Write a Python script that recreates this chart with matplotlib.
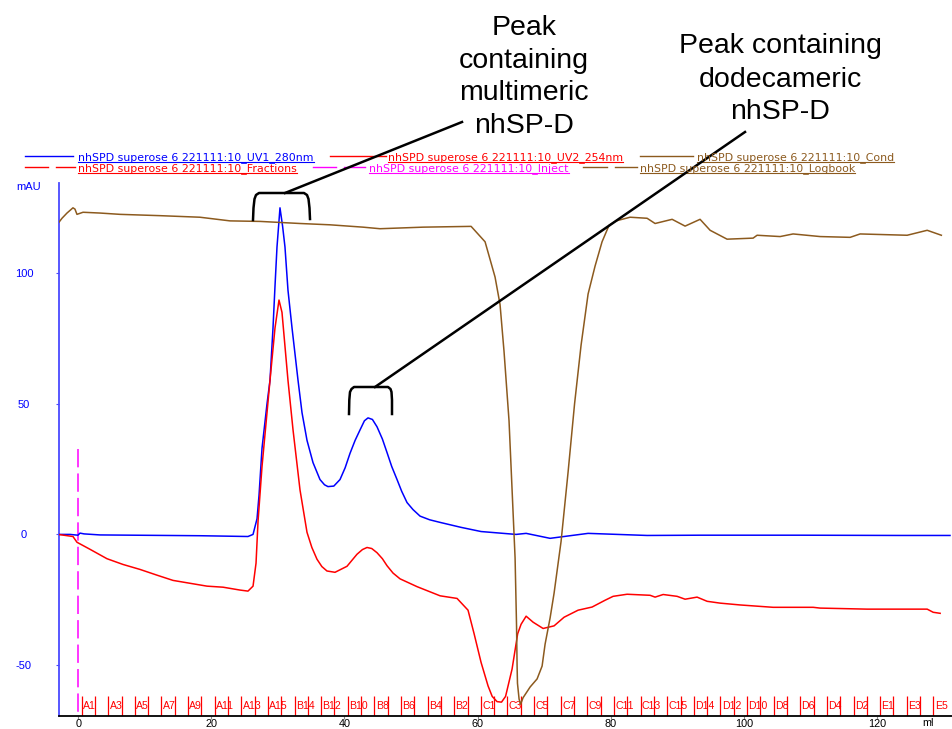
import numpy as np
import matplotlib
matplotlib.use("Agg")
import matplotlib.pyplot as plt

plt.rcParams['font.family'] = ['Liberation Sans', 'DejaVu Sans']

# ---------------- data (elution volume in ml, signal in mAU) ----------------
uv1_ml = [-2.9, -1.25, -0.05, 0.26, 0.86, 3.26, 18.28, 25.5, 26.26, 26.86, 27.16, 27.61,
          28.36, 28.81, 29.26, 29.56, 29.86, 30.31, 30.7, 31.06, 31.51, 32.12, 33.02, 33.62,
          34.37, 35.27, 36.32, 37.0, 37.52, 38.4, 39.33, 40.1, 40.83, 41.6, 42.34, 43.0,
          43.54, 44.2, 44.89, 45.7, 46.40, 47.1, 47.90, 48.6, 49.40, 50.3, 51.36, 52.8,
          54.37, 57.52, 60.53, 65.79, 67.30, 70.90, 73.00, 76.61, 85.48, 93.44, 108.48,
          123.51, 131.0]
uv1_mau = [0, 0, -0.3, 0.5, 0.2, -0.2, -0.5, -0.8, 0, 6, 15, 33,
           50, 59, 79, 95, 110, 125, 118, 110, 93.5, 79, 59, 46.6,
           36, 27.5, 21, 19, 18.3, 18.5, 21, 25.5, 31, 36, 40, 43.5,
           44.6, 44.0, 41.2, 36.5, 31.3, 26, 21, 16.5, 12.2, 9.5, 7, 5.6,
           4.6, 2.7, 1.1, 0, 0.4, -1.5, -0.8, 0.4, -0.4, -0.3, -0.3,
           -0.4, -0.4]

uv2_ml = [-3.05, -0.80, -0.20, 1.76, 4.31, 6.72, 9.27, 11.83, 14.23, 16.78, 19.34, 21.75,
          24.30, 25.50, 26.26, 26.71, 27.01, 27.61, 28.36, 28.81, 29.56, 30.16, 30.61,
          31.51, 32.27, 33.32, 34.37, 35.1, 35.87, 36.6, 37.37, 38.58, 40.38, 41.88, 42.7,
          43.39, 44.1, 44.89, 45.7, 46.40, 47.3, 48.35, 50.91, 54.37, 56.92, 58.57, 59.48,
          60.53, 61.58, 62.2, 62.93, 63.6, 64.21, 65.19, 66.03, 66.54, 67.30, 68.35, 69.85,
          71.50, 73.00, 75.11, 77.21, 79.16, 80.37, 82.47, 85.93, 86.68, 87.89, 89.99,
          91.19, 92.99, 94.50, 96.45, 99.46, 104.42, 110.43, 111.48, 118.55, 127.57,
          128.47, 129.52]
uv2_mau = [0, -0.8, -3, -5.7, -9.3, -11.5, -13.4, -15.6, -17.6, -18.7, -19.8, -20.2,
           -21.3, -21.7, -19.8, -11, 5, 26, 46.6, 59, 79, 89.7, 85,
           59, 40, 17, 0.8, -5, -9.5, -12.3, -14, -14.5, -12.2, -7.6, -5.8,
           -5, -5.4, -7, -9.3, -12, -14.8, -17, -20, -23.5, -24.5, -29, -38,
           -49, -58, -62, -64, -64.2, -62, -51.5, -38, -34.4, -31.3, -33.6, -36,
           -35, -31.7, -29, -27.8, -25.2, -23.7, -22.9, -23.3, -24, -23, -23.7,
           -24.8, -24, -25.6, -26.3, -27, -27.9, -27.9, -28.2, -28.6, -28.6,
           -29.8, -30.2]

cond_ml = [-2.90, -2.45, -1.70, -0.80, -0.50, -0.20, 0.71, 3.26, 6.27, 12.28, 18.28, 22.80,
           27.31, 33.32, 37.82, 42.79, 45.34, 51.81, 59.03, 61.13, 62.63, 63.38, 63.98,
           64.73, 65.19, 65.64, 65.86, 65.94, 66.0, 66.24, 66.47, 66.84, 67.90, 68.95,
           69.70, 70.15, 70.90, 71.50, 72.55, 73.60, 74.58, 75.56, 76.61, 77.66, 78.71,
           79.76, 80.82, 82.92, 85.48, 86.68, 89.24, 91.19, 93.44, 94.95, 97.50, 101.41,
           102.01, 105.47, 107.42, 111.48, 115.99, 117.49, 124.56, 127.57, 129.7]
cond_scaled = [119.5, 121, 123, 125, 124.5, 122.5, 123.3, 123, 122.5, 122, 121.4, 120,
               119.8, 119, 118.5, 117.6, 117, 117.6, 117.9, 112, 98.5, 88, 70,
               43.5, 17, -9, -35, -50, -57, -63, -65, -62.5, -58.4, -55.3,
               -50.4, -42, -32, -22.5, -2.7, 23.7, 50, 72.5, 92, 102.7, 112,
               118.3, 120, 121.4, 121, 119, 120.6, 118, 120.6, 116.4, 113, 113.4,
               114.5, 114, 115, 114, 113.7, 115, 114.5, 116.4, 114.5]

inject_ml = 0.0
inject_top_mau = 32.5

frac_labels = ["A1", "A3", "A5", "A7", "A9", "A11", "A13", "A15", "B14", "B12", "B10",
               "B8", "B6", "B4", "B2", "C1", "C3", "C5", "C7", "C9", "C11", "C13", "C15",
               "D14", "D12", "D10", "D8", "D6", "D4", "D2", "E1", "E3", "E5"]
frac_first_ml = 0.5
frac_size_ml = 2.0

legend_row1 = ["nhSPD superose 6 221111:10_UV1_280nm",
               "nhSPD superose 6 221111:10_UV2_254nm",
               "nhSPD superose 6 221111:10_Cond"]
legend_row2 = ["nhSPD superose 6 221111:10_Fractions",
               "nhSPD superose 6 221111:10_Inject",
               "nhSPD superose 6 221111:10_Logbook"]

x_ticks = [0, 20, 40, 60, 80, 100, 120]
y_ticks = [-50, 0, 50, 100]

# ---------------- styling ----------------
BLUE = '#0000ff'
RED = '#ff0000'
BROWN = '#8c5a1e'
MAGENTA = '#ff00ff'
SPINE_BLUE = '#4a4aff'

W, H = 952, 729
fig = plt.figure(figsize=(W / 100, H / 100), dpi=100)

x_lo, x_hi = -2.9, 131.3
y_lo, y_hi = -69.5, 134.5
ax = fig.add_axes([59 / W, 1 - 716 / H, (W - 59) / W, (716 - 183) / H])
ax.set_xlim(x_lo, x_hi)
ax.set_ylim(y_lo, y_hi)
for s in ['top', 'right']:
    ax.spines[s].set_visible(False)
ax.spines['left'].set_color(SPINE_BLUE)
ax.spines['left'].set_linewidth(1.3)
ax.spines['bottom'].set_color('black')
ax.spines['bottom'].set_linewidth(1.3)

ax.set_xticks(x_ticks)
ax.set_xticklabels([str(v) for v in x_ticks])
ax.tick_params(axis='x', length=1.8, width=0.8, color='#888888', pad=0.3,
               labelsize=7.8, labelcolor='black')
ax.set_yticks(y_ticks)
ax.set_yticklabels([str(v) for v in y_ticks])
ax.tick_params(axis='y', length=2.2, width=0.8, color=SPINE_BLUE, pad=23,
               labelsize=8, labelcolor=BLUE)
for lbl in ax.get_yticklabels():
    lbl.set_horizontalalignment('center')

ax.plot(uv1_ml, uv1_mau, color=BLUE, lw=1.1, zorder=3)
ax.plot(uv2_ml, uv2_mau, color=RED, lw=1.1, zorder=3)
ax.plot(cond_ml, cond_scaled, color=BROWN, lw=1.1, zorder=4)

ax.plot([inject_ml, inject_ml], [inject_top_mau, y_lo], color=MAGENTA, lw=1.1,
        dashes=(12, 4), zorder=2)

# fractions
bounds = np.arange(frac_first_ml, x_hi - 1, frac_size_ml)
ax.vlines(bounds, -62.0, y_lo, color=RED, lw=0.9, zorder=2)
for i, lab in enumerate(frac_labels):
    xs = frac_first_ml + 2 * i * frac_size_ml
    ax.text(xs + 0.2, -65.6, lab, color=RED, fontsize=7.6, ha='left', va='center',
            clip_on=False)

# ---------------- overlay in pixel coordinates ----------------
ov = fig.add_axes([0, 0, 1, 1])
ov.set_xlim(0, W)
ov.set_ylim(H, 0)
ov.axis('off')
ov.set_zorder(10)

fig.text(28.5 / W, 1 - 187 / H, 'mAU', color=BLUE, fontsize=8, ha='center', va='center')
fig.text(928 / W, 1 - 723 / H, 'ml', color='black', fontsize=7.8, ha='center', va='center')

# legend
renderer = fig.canvas.get_renderer()
leg_fs = 7.9
leg_font = 'DejaVu Sans'
row1 = [(25, 73, 78, BLUE, False), (330, 386, 388, RED, False), (640, 693, 697, BROWN, False)]
row2 = [(25, 75, 78, RED, True), (313, 365, 369, MAGENTA, True), (583, 637, 640, BROWN, True)]
for labels, specs, ybase, yline in [(legend_row1, row1, 160.5, 155.5),
                                     (legend_row2, row2, 171.0, 166.5)]:
    for lab, (l0, l1, tx, col, dashed) in zip(labels, specs):
        if dashed:
            mid = l0 + (l1 - l0) * 0.45
            ov.plot([l0, mid], [yline, yline], color=col, lw=1.0)
            ov.plot([mid + 8, l1], [yline, yline], color=col, lw=1.0)
        else:
            ov.plot([l0, l1], [yline, yline], color=col, lw=1.0)
        t = ov.text(tx, ybase, lab, color=col, fontsize=leg_fs, family=leg_font,
                    ha='left', va='baseline')
        bb = t.get_window_extent(renderer)
        ov.plot([bb.x0, bb.x1], [ybase + 1.5, ybase + 1.5], color=col, lw=0.8)

# annotations
ann1 = ["Peak", "containing", "multimeric", "nhSP-D"]
ann1_base = [35, 68, 100, 133]
for s, yb in zip(ann1, ann1_base):
    ov.text(524, yb, s, fontsize=20.5, ha='center', va='baseline', color='black')
ann2 = ["Peak containing", "dodecameric", "nhSP-D"]
ann2_base = [53, 87, 119]
for s, yb in zip(ann2, ann2_base):
    ov.text(780, yb, s, fontsize=20.5, ha='center', va='baseline', color='black')

br1 = [(253, 220), (253.5, 208), (254.5, 199), (256, 195), (259, 193), (304, 193),
       (307, 195), (308.5, 199), (309.5, 208), (310, 219)]
br2 = [(349, 414), (349.3, 400), (350, 392), (351.5, 389), (354, 387), (388, 387),
       (390.5, 389), (391.5, 392), (392, 400), (392, 414)]
for br in (br1, br2):
    ov.plot([p[0] for p in br], [p[1] for p in br], color='black', lw=1.8,
            solid_joinstyle='round')
ov.plot([285, 462], [193, 122], color='black', lw=1.8)
ov.plot([375, 745], [387, 132], color='black', lw=1.8)

fig.savefig('out.png', dpi=100)
